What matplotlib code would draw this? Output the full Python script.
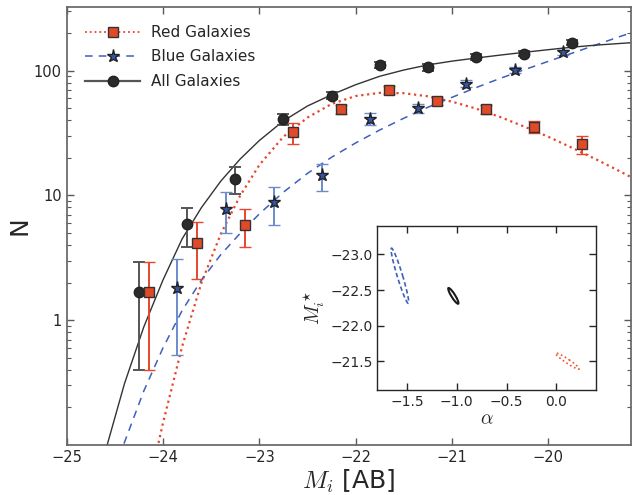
import matplotlib
matplotlib.use('Agg')
import matplotlib.pyplot as plt
from matplotlib.lines import Line2D
from matplotlib.patches import Ellipse
from matplotlib.ticker import FixedLocator, LogLocator, NullFormatter

plt.rcParams['font.family'] = ['DejaVu Sans']
plt.rcParams['mathtext.fontset'] = 'cm'
plt.rcParams['text.color'] = '#262626'
plt.rcParams['axes.labelcolor'] = '#262626'
plt.rcParams['xtick.color'] = '#262626'
plt.rcParams['ytick.color'] = '#262626'

# binned counts (points)
M_all = [-24.25, -23.75, -23.25, -22.75, -22.25, -21.75, -21.25, -20.75, -20.25, -19.75]
N_all = [1.67, 5.94, 13.6, 40.9, 63.1, 111, 106, 128, 137, 167]
all_lo = [1.27, 2.10, 3.3, 4.0, 4.0, 6.0, 6.0, 7.0, 7.0, 8.0]
all_hi = [1.26, 2.00, 3.3, 4.1, 4.0, 6.0, 6.0, 7.0, 7.0, 8.0]

M_red = [-24.15, -23.65, -23.15, -22.65, -22.15, -21.65, -21.15, -20.65, -20.15, -19.65]
N_red = [1.67, 4.13, 5.84, 32.2, 48.8, 70.1, 57.2, 49.1, 35.4, 25.8]
red_lo = [1.27, 2.0, 2.0, 6.2, 4.0, 5.0, 4.5, 4.0, 3.9, 4.2]
red_hi = [1.26, 2.0, 2.0, 5.5, 4.0, 5.0, 4.5, 4.0, 4.4, 4.1]

M_blue = [-23.85, -23.35, -22.85, -22.35, -21.85, -21.35, -20.85, -20.35, -19.85]
N_blue = [1.80, 7.79, 8.79, 14.6, 40.9, 49.7, 78.3, 100.8, 140]
blue_lo = [1.27, 2.82, 3.04, 3.7, 4.3, 4.0, 5.0, 6.0, 7.0]
blue_hi = [1.30, 2.8, 2.8, 3.4, 4.7, 4.0, 5.0, 6.0, 7.0]

# fitted curves
fit_M_all = [-24.7, -24.6, -24.4, -24.2, -24.0, -23.8, -23.6, -23.4, -23.2, -23.0, -22.75, -22.5, -22.25,
             -22.0, -21.75, -21.5, -21.25, -21.0, -20.75, -20.5, -20.25, -20.0, -19.75, -19.5, -19.25, -19.0]
fit_N_all = [0.045, 0.088, 0.31, 0.88, 2.1, 4.5, 8.0, 13.0, 19.5, 27.5, 39.5, 52, 64,
             77, 90, 101, 111, 119, 126, 133, 140, 147, 154, 160, 165, 170]

fit_M_blue = [-24.6, -24.4, -24.2, -24.0, -23.8, -23.6, -23.4, -23.2, -23.0, -22.75, -22.5, -22.25, -22.0,
              -21.75, -21.5, -21.25, -21.0, -20.75, -20.5, -20.25, -20.0, -19.75, -19.5, -19.25, -19.0]
fit_N_blue = [0.035, 0.105, 0.27, 0.6, 1.2, 2.1, 3.35, 4.95, 7.1, 10.6, 15.0, 20.2, 26.3,
              33.4, 41.5, 50.8, 61, 73, 86.5, 101.5, 118.5, 138, 161, 188, 217]

fit_M_red = [-24.1, -24.0, -23.8, -23.6, -23.4, -23.2, -23.0, -22.75, -22.5, -22.25, -22.0, -21.75,
             -21.5, -21.25, -21.0, -20.75, -20.5, -20.25, -20.0, -19.75, -19.5, -19.25, -19.0]
fit_N_red = [0.068, 0.15, 0.62, 2.0, 4.9, 9.9, 17.5, 29.5, 42, 54, 62.5, 66.3,
             65.9, 62.2, 56.4, 49.6, 42.5, 35.6, 29.5, 24.0, 19.4, 15.5, 12.3]

# inset: confidence contours (alpha, M*)
ell_names = ['all', 'blue', 'red']
ell_alpha = [-1.035, -1.573, 0.112]
ell_mstar = [-22.418, -22.70, -21.506]
ell_len = [0.24, 0.79, 0.323]
ell_wid = [0.04, 0.055, 0.05]
ell_ang = [66.3, 77.7, 43.6]

red_c = '#e8452c'
red_face = '#e04a28'
blue_c = '#3f5fbf'
blue_face = '#3556a8'
blue_err = '#6d8bcb'
black_c = '#2b2b2b'

fig = plt.figure(figsize=(6.32, 4.95), dpi=100)
ax = fig.add_axes([0.1055, 0.101, 0.893, 0.8855])

ax.plot(fit_M_red, fit_N_red, color=red_c, linestyle=':', linewidth=1.6, zorder=2)
ax.plot(fit_M_blue, fit_N_blue, color=blue_c, linestyle=(0, (5, 4)), linewidth=1.1, zorder=2)
ax.plot(fit_M_all, fit_N_all, color='#333333', linestyle='-', linewidth=1.0, zorder=2)

ax.errorbar(M_all, N_all, yerr=[all_lo, all_hi], fmt='o', color=black_c, ecolor='#555555',
            markersize=7.5, markeredgecolor='#222222', elinewidth=1.4, capsize=4.5, capthick=1.4, zorder=4)
ax.errorbar(M_red, N_red, yerr=[red_lo, red_hi], fmt='s', color=red_face, ecolor=red_c,
            markersize=7.5, markeredgecolor='#333333', markeredgewidth=1.0, elinewidth=1.4, capsize=4.5,
            capthick=1.4, zorder=4)
ax.errorbar(M_blue, N_blue, yerr=[blue_lo, blue_hi], fmt='*', color=blue_face, ecolor=blue_err,
            markersize=9.5, markeredgecolor='#222222', markeredgewidth=1.0, elinewidth=1.4, capsize=4.5,
            capthick=1.4, zorder=4)

ax.set_yscale('log')
ax.set_xlim(-25, -19.14)
ax.set_ylim(0.1, 325)
ax.set_xticks([-25, -24, -23, -22, -21, -20])
ax.yaxis.set_major_locator(FixedLocator([1, 10, 100]))
ax.set_yticklabels(['1', '10', '100'])
ax.yaxis.set_minor_locator(LogLocator(base=10, subs=[2, 3, 4, 5, 6, 7, 8, 9]))
ax.yaxis.set_minor_formatter(NullFormatter())
ax.tick_params(which='both', direction='in', top=True, right=True, labelsize=10.5)
ax.tick_params(which='major', length=5, width=1.0, color='0.35')
ax.tick_params(which='minor', length=3, width=0.8, color='0.35')
for s in ax.spines.values():
    s.set_color('0.4')
    s.set_linewidth(1.25)

ax.set_xlabel('$M_i$ [AB]', fontsize=18, labelpad=2)
ax.set_ylabel('N', fontsize=18, labelpad=2)

handles = [
    Line2D([], [], color=red_c, linestyle=':', linewidth=1.3, marker='s', markersize=7.5,
           markerfacecolor=red_face, markeredgecolor='#333333'),
    Line2D([], [], color=blue_c, linestyle=(0, (5, 4)), linewidth=1.1, marker='*', markersize=9.5,
           markerfacecolor=blue_face, markeredgecolor='#222222'),
    Line2D([], [], color='#555555', linestyle='-', linewidth=1.6, marker='o', markersize=7.5,
           markerfacecolor=black_c, markeredgecolor='#222222'),
]
ax.legend(handles, ['Red Galaxies', 'Blue Galaxies', 'All Galaxies'], loc='upper left', frameon=False,
          fontsize=11, handlelength=3.6, handletextpad=0.7, labelspacing=0.62, numpoints=1,
          borderaxespad=0.8, borderpad=0.4)

# inset
ins = fig.add_axes([0.597, 0.212, 0.346, 0.332])
ell_style = {'all': ('#1a1a1a', '-', 1.5), 'blue': (blue_c, (0, (2.7, 1.6)), 1.2), 'red': ('#f05030', ':', 1.2)}
for i in range(len(ell_names)):
    col, ls, lw = ell_style[ell_names[i]]
    e = Ellipse((ell_alpha[i], ell_mstar[i]), ell_len[i], ell_wid[i], angle=ell_ang[i],
                fill=False, edgecolor=col, linestyle=ls, linewidth=lw)
    ins.add_patch(e)
ins.set_xlim(-1.8, 0.4)
ins.set_ylim(-21.1, -23.4)
ins.set_xticks([-1.5, -1.0, -0.5, 0.0])
ins.set_yticks([-23.0, -22.5, -22.0, -21.5])
ins.tick_params(direction='in', top=True, right=True, labelsize=10, length=5, width=1.0)
for s in ins.spines.values():
    s.set_color('0.15')
    s.set_linewidth(1.0)
ins.set_xlabel(r'$\alpha$', fontsize=14, labelpad=0)
ins.set_ylabel(r'$M_i^\star$', fontsize=14, labelpad=2)

fig.savefig('out.png', dpi=100)
